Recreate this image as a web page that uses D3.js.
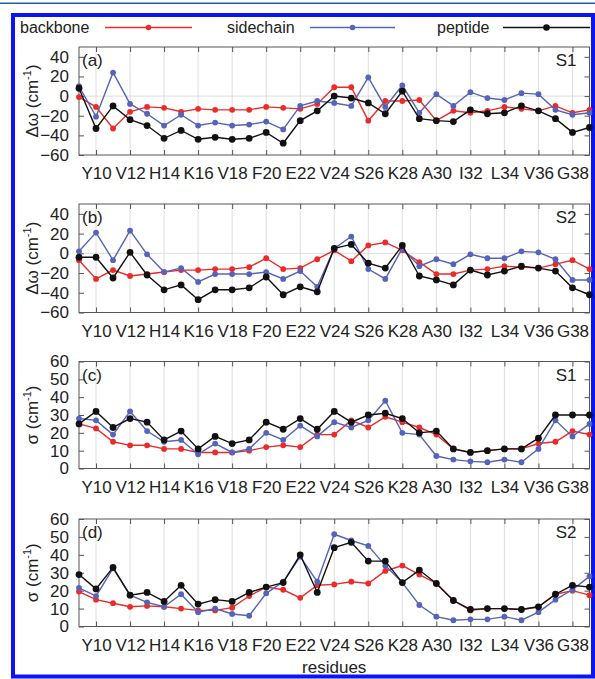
<!DOCTYPE html>
<html>
<head>
<meta charset="utf-8">
<script src="https://cdn.jsdelivr.net/npm/d3@7"></script>
<style>
  body { margin: 0; background: #fff; }
  svg text { font-family: "Liberation Sans", Arial, Helvetica, sans-serif; fill: #222; }
</style>
</head>
<body>
<svg id="chart" width="595" height="679"></svg>
<script>
// residue numbers along x
var residues = [9,10,11,12,13,14,15,16,17,18,19,20,21,22,23,24,25,26,27,28,29,30,31,32,33,34,35,36,37,38,39];
var tickResidues = [10,12,14,16,18,20,22,24,26,28,30,32,34,36,38];
var tickLabels = ["Y10","V12","H14","K16","V18","F20","E22","V24","S26","K28","A30","I32","L34","V36","G38"];

// (a) delta omega, S1
var aBackbone  = [-1,-11,-33,-16,-11,-12,-16,-13,-14,-14,-14,-11,-12,-13,-8,9,9,-25,-5,-5,-4,-25,-15,-17,-15,-11,-13,-15,-10,-17,-14];
var aSidechain = [10,-21,24,-8,-18,-30,-19,-30,-27,-30,-29,-26,-34,-10,-5,-7,-10,19,-11,11,-17,2,-10,4,-2,-4,3,2,-14,-19,-17];
var aPeptide   = [8,-33,-10,-24,-30,-43,-35,-44,-42,-44,-43,-37,-48,-25,-15,0,-2,-7,-18,5,-23,-25,-26,-14,-18,-17,-10,-15,-23,-37,-32];
// (b) delta omega, S2
var bBackbone  = [-7,-26,-17,-23,-21,-19,-17,-17,-16,-16,-14,-5,-16,-15,-6,3,-8,8,11,3,-9,-21,-21,-17,-16,-13,-14,-15,-11,-7,-16];
var bSidechain = [2,21,-7,23,-1,-19,-15,-29,-21,-21,-21,-19,-26,-18,-34,5,17,-16,-26,5,-13,-6,-11,-1,-5,-5,2,1,-6,-27,-27];
var bPeptide   = [-4,-4,-25,1,-22,-37,-32,-47,-37,-37,-35,-24,-42,-34,-39,5,9,-10,-15,8,-23,-27,-32,-17,-22,-18,-13,-15,-18,-35,-42];
// (c) sigma, S1
var cBackbone  = [25,22.5,15,13,13,11,11,9,9,9,10,12,13,12,19,19,27,23,29,26,23,19,11,9,10,11,11,14,15,21,19];
var cSidechain = [28,27,19,32,21,15,16,8,14,9,11,20,16,24,18,26,23,27,38,20,19,7,5,4,3.5,5,3.5,11,27,18,25];
var cPeptide   = [25,32,23,28,26,16,21,11,18,14,16,26,22,28,22,32,26,30,31,28,20,21,11,9,10,11,11,17,30,30,30];
// (d) sigma, S2
var dBackbone  = [19.5,15,13,11,11.5,11,10,9,9,10.5,17,22,20.5,16,23,23.5,25,24,31,34,29,24,14.5,9,10,10,9.5,11,18,20,17.5];
var dSidechain = [21.5,17,32.5,17.5,13.5,11,18,8,10,7,6,18.5,25,39,25,51.5,48,45,34,24.5,12,5.5,3.5,4,4,5.5,3.5,8,15,20.5,28];
var dPeptide   = [29,21,33,17.5,19,14,23,12.5,15,14,19,22,24.5,40,19,44,47,36.5,36.5,24.5,31.5,24,14.5,9.5,10,10,9.5,11,18,23,22];

var seriesNames = ["backbone","sidechain","peptide"];
var seriesColors = ["#ec2a2a","#5563b8","#111111"];

var panels = [
  {tag:"(a)", state:"S1", top:47, bottom:155, domain:[-60,50], ticks:[-60,-40,-20,0,20,40], zero:true, label:"Δω", data:[aBackbone,aSidechain,aPeptide]},
  {tag:"(b)", state:"S2", top:204, bottom:312.5, domain:[-60,50], ticks:[-60,-40,-20,0,20,40], zero:true, label:"Δω", data:[bBackbone,bSidechain,bPeptide]},
  {tag:"(c)", state:"S1", top:361.5, bottom:468.5, domain:[0,60], ticks:[0,10,20,30,40,50,60], zero:false, label:"σ", data:[cBackbone,cSidechain,cPeptide]},
  {tag:"(d)", state:"S2", top:519, bottom:626.5, domain:[0,60], ticks:[0,10,20,30,40,50,60], zero:false, label:"σ", data:[dBackbone,dSidechain,dPeptide]}
];

var svg = d3.select("#chart");
var left = 79, right = 589.5;
var x = d3.scaleLinear().domain([9, 39]).range([left, right]);

// page decoration
svg.append("line").attr("x1", 0).attr("x2", 595).attr("y1", 3.2).attr("y2", 3.2)
    .attr("stroke", "#1d5fae").attr("stroke-width", 1.4);
svg.append("rect").attr("x", 13).attr("y", 15).attr("width", 580).attr("height", 661.5)
    .attr("fill", "none").attr("stroke", "#0a14f5").attr("stroke-width", 4);

// legend
var legX = [{tx:20, lx1:105, lx2:192}, {tx:227, lx1:310, lx2:395}, {tx:437, lx1:503, lx2:590}];
seriesNames.forEach(function(name, i) {
  var g = svg.append("g");
  g.append("text").attr("x", legX[i].tx).attr("y", 33).attr("font-size", 16).text(name);
  g.append("line").attr("x1", legX[i].lx1).attr("x2", legX[i].lx2).attr("y1", 27.5).attr("y2", 27.5)
      .attr("stroke", seriesColors[i]).attr("stroke-width", 1.3);
  g.append("circle").attr("cx", (legX[i].lx1 + legX[i].lx2) / 2).attr("cy", 27.5)
      .attr("r", i == 2 ? 3.3 : 2.8).attr("fill", seriesColors[i]);
});

panels.forEach(function(p) {
  var y = d3.scaleLinear().domain(p.domain).range([p.bottom, p.top]);
  var g = svg.append("g");

  // grid
  g.selectAll(".grid").data(tickResidues).enter().append("line")
      .attr("x1", function(d) { return x(d); }).attr("x2", function(d) { return x(d); })
      .attr("y1", p.top).attr("y2", p.bottom)
      .attr("stroke", "#d6d6d6").attr("stroke-width", 0.8);
  if (p.zero) {
    g.append("line").attr("x1", left).attr("x2", right).attr("y1", y(0)).attr("y2", y(0))
        .attr("stroke", "#d6d6d6").attr("stroke-width", 0.8);
  }

  // axes with inward ticks
  var bottomAxis = d3.axisBottom(x).tickValues(tickResidues)
      .tickFormat(function(d, i) { return tickLabels[i]; }).tickSizeInner(-5).tickSizeOuter(0).tickPadding(12);
  var gx = g.append("g").attr("transform", "translate(0," + p.bottom + ")").call(bottomAxis);
  gx.selectAll("text").attr("font-size", 17).attr("dy", "0.71em").attr("fill", "#222");

  var topAxis = d3.axisTop(x).tickValues(tickResidues).tickFormat("").tickSizeInner(-5).tickSizeOuter(0);
  g.append("g").attr("transform", "translate(0," + p.top + ")").call(topAxis);

  var leftAxis = d3.axisLeft(y).tickValues(p.ticks).tickSizeInner(-5).tickSizeOuter(0).tickPadding(10);
  var gy = g.append("g").attr("transform", "translate(" + left + ",0)").call(leftAxis);
  gy.selectAll("text").attr("font-size", 17).attr("fill", "#222");

  var rightAxis = d3.axisRight(y).tickValues(p.ticks).tickFormat("").tickSizeInner(-5).tickSizeOuter(0);
  g.append("g").attr("transform", "translate(" + right + ",0)").call(rightAxis);

  g.selectAll(".domain").remove();
  g.selectAll(".tick line").attr("stroke", "#555");
  g.append("rect").attr("x", left).attr("y", p.top).attr("width", right - left).attr("height", p.bottom - p.top)
      .attr("fill", "none").attr("stroke", "#555").attr("stroke-width", 1);

  // series
  var line = d3.line().x(function(d, i) { return x(residues[i]); }).y(function(d) { return y(d); });
  p.data.forEach(function(vals, k) {
    g.append("path").datum(vals).attr("d", line)
        .attr("fill", "none").attr("stroke", seriesColors[k]).attr("stroke-width", 1.4);
    g.selectAll(".pt" + k).data(vals).enter().append("circle")
        .attr("cx", function(d, i) { return x(residues[i]); })
        .attr("cy", function(d) { return y(d); })
        .attr("r", k == 2 ? 3.4 : 2.9)
        .attr("fill", seriesColors[k]);
  });

  // labels
  g.append("text").attr("x", left + 3).attr("y", p.top + 19).attr("font-size", 17).text(p.tag);
  g.append("text").attr("x", right - 13).attr("y", p.top + 19).attr("font-size", 17)
      .attr("text-anchor", "end").text(p.state);

  var yl = g.append("text")
      .attr("transform", "translate(38," + ((p.top + p.bottom) / 2) + ") rotate(-90)")
      .attr("text-anchor", "middle").attr("font-size", 17);
  yl.append("tspan").text(p.label + " (cm");
  yl.append("tspan").attr("font-size", 11).attr("dy", -7).text("-1");
  yl.append("tspan").attr("dy", 7).text(")");
});

svg.append("text").attr("x", (left + right) / 2).attr("y", 673).attr("text-anchor", "middle")
    .attr("font-size", 17).text("residues");
</script>
</body>
</html>
